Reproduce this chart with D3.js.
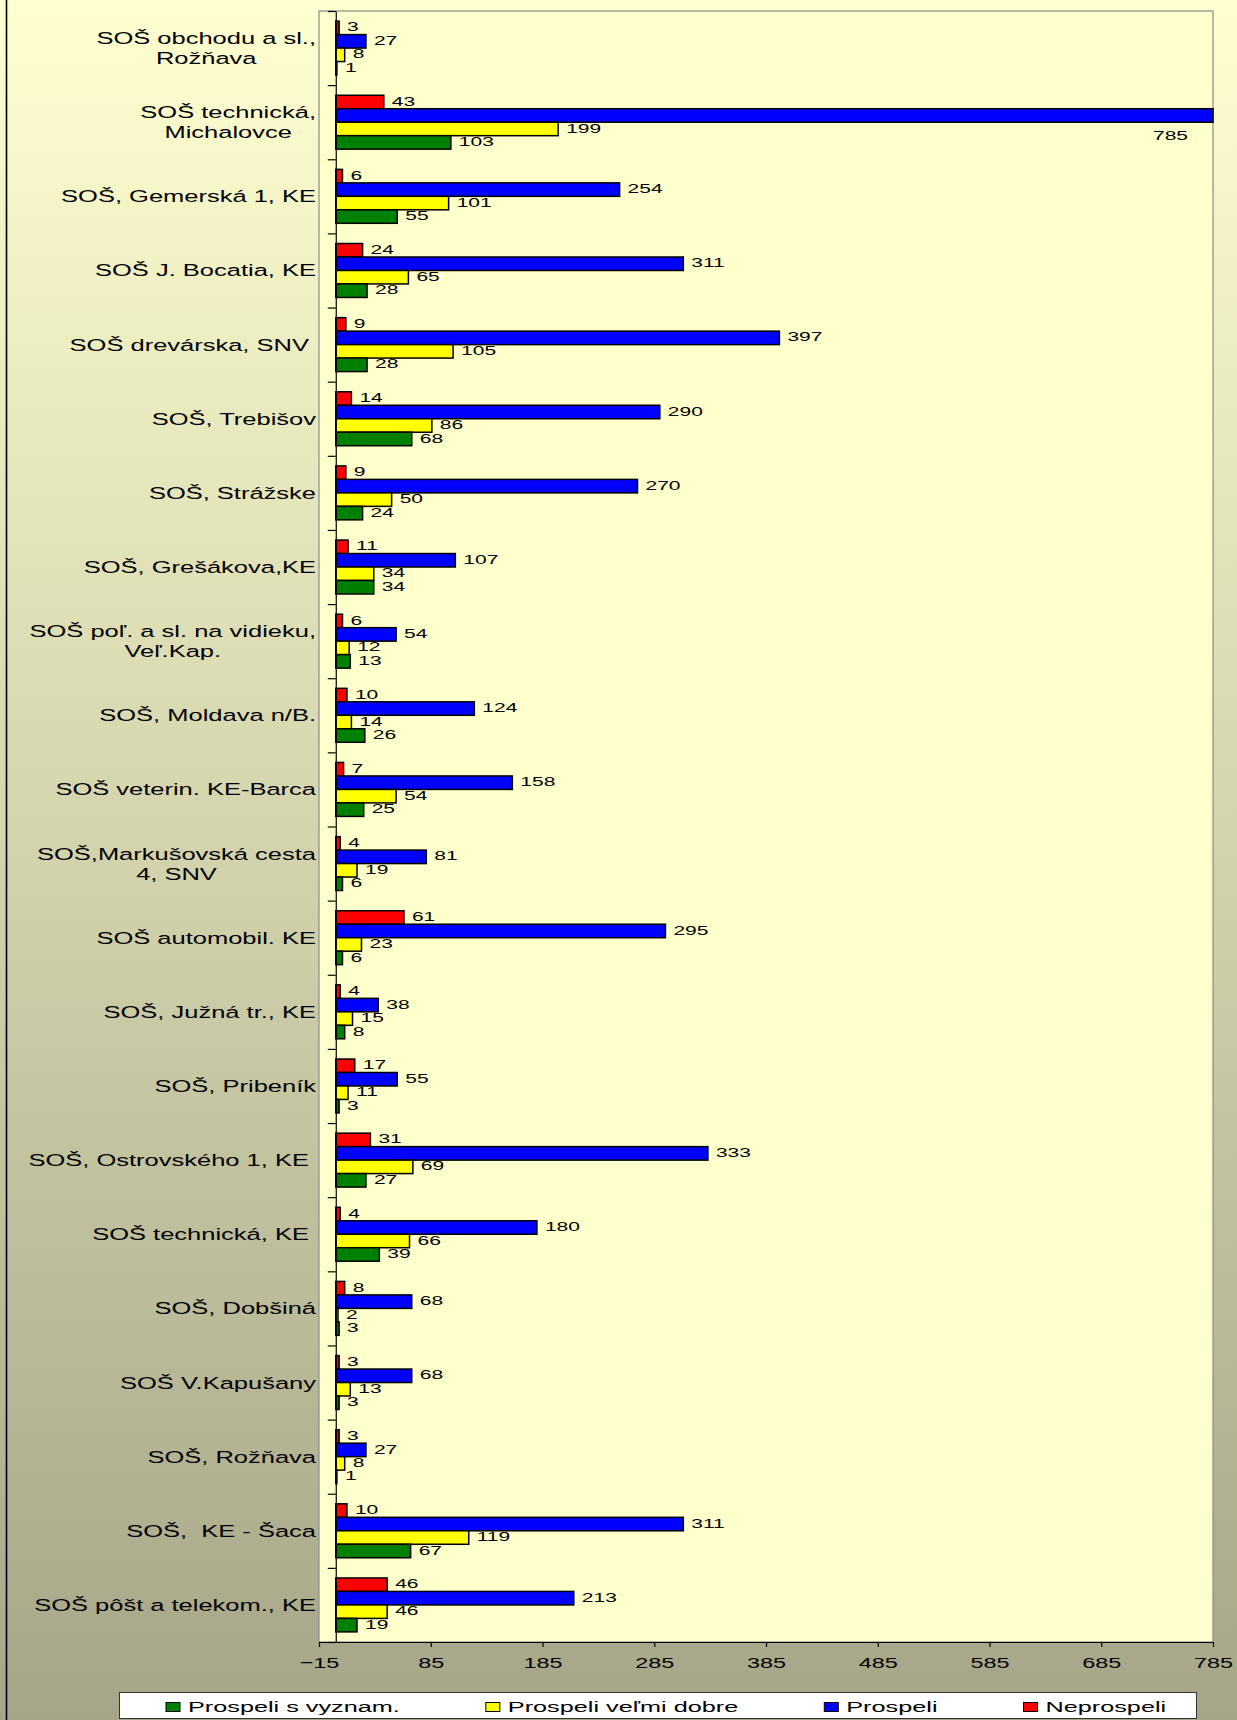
<!DOCTYPE html>
<html>
<head>
<meta charset="utf-8">
<script src="https://cdn.jsdelivr.net/npm/d3@7"></script>
<style>
  body { margin: 0; padding: 0; background: #fff; }
  svg { display: block; }
  text { font-family: "Liberation Sans", Arial, sans-serif; fill: #000; }
</style>
</head>
<body>
<svg id="chart" width="1237" height="1720"></svg>
<script>
// ---- data (top to bottom as drawn) ----
const categories = [
  "SOŠ obchodu a sl.,\nRožňava",
  "SOŠ technická,\nMichalovce",
  "SOŠ, Gemerská 1, KE",
  "SOŠ J. Bocatia, KE",
  "SOŠ drevárska, SNV ",
  "SOŠ, Trebišov",
  "SOŠ, Strážske",
  "SOŠ, Grešákova,KE",
  "SOŠ poľ. a sl. na vidieku,\nVeľ.Kap.",
  "SOŠ, Moldava n/B.",
  "SOŠ veterin. KE-Barca",
  "SOŠ,Markušovská cesta\n4, SNV",
  "SOŠ automobil. KE",
  "SOŠ, Južná tr., KE",
  "SOŠ, Pribeník",
  "SOŠ, Ostrovského 1, KE ",
  "SOŠ technická, KE ",
  "SOŠ, Dobšiná",
  "SOŠ V.Kapušany",
  "SOŠ, Rožňava",
  "SOŠ,  KE - Šaca",
  "SOŠ pôšt a telekom., KE"
];
const prospeliSVyznam  = [1, 103, 55, 28, 28, 68, 24, 34, 13, 26, 25, 6, 6, 8, 3, 27, 39, 3, 3, 1, 67, 19];
const prospeliVelmiDobre = [8, 199, 101, 65, 105, 86, 50, 34, 12, 14, 54, 19, 23, 15, 11, 69, 66, 2, 13, 8, 119, 46];
const prospeli         = [27, 785, 254, 311, 397, 290, 270, 107, 54, 124, 158, 81, 295, 38, 55, 333, 180, 68, 68, 27, 311, 213];
const neprospeli       = [3, 43, 6, 24, 9, 14, 9, 11, 6, 10, 7, 4, 61, 4, 17, 31, 4, 8, 3, 3, 10, 46];
const seriesNames  = ["Prospeli s vyznam.", "Prospeli veľmi dobre", "Prospeli", "Neprospeli"];
const seriesColors = ["#008000", "#FFFF00", "#0000FF", "#FF0000"];
const xTicks = [-15, 85, 185, 285, 385, 485, 585, 685, 785];

// ---- layout ----
const W = 1237, H = 1720;
const plot = { left: 319, right: 1213, top: 11, bottom: 1642 };
const SX_CAT = 1.5, SX_TICK = 1.52, SX_VAL = 1.68, SX_LEG = 1.64;

const svg = d3.select("#chart");
const defs = svg.append("defs");
const grad = defs.append("linearGradient").attr("id", "bg").attr("x1", 0).attr("y1", 0).attr("x2", 0).attr("y2", 1);
grad.append("stop").attr("offset", "0%").attr("stop-color", "#FFFFD0");
grad.append("stop").attr("offset", "100%").attr("stop-color", "#A6A588");
svg.append("rect").attr("width", W).attr("height", H).attr("fill", "url(#bg)");
svg.append("line").attr("x1", 6.5).attr("x2", 6.5).attr("y1", 0).attr("y2", H)
  .attr("stroke", "#000").attr("stroke-width", 1.6);

const x = d3.scaleLinear().domain([-15, 785]).range([plot.left, plot.right]);
const y = d3.scaleBand().domain(d3.range(categories.length)).range([plot.top, plot.bottom]).paddingInner(0).paddingOuter(0);
const yIdx = d3.scaleLinear().domain([0, categories.length]).range([plot.top, plot.bottom]);
// bar order within a band, top to bottom: Neprospeli, Prospeli, veľmi dobre, s vyznam.
const drawOrder = [3, 2, 1, 0];
const ySub = d3.scaleBand().domain(drawOrder).range([0, y.bandwidth()]).paddingInner(0).paddingOuter(0.75);

// plot area
svg.append("rect")
  .attr("x", plot.left).attr("y", plot.top)
  .attr("width", plot.right - plot.left).attr("height", plot.bottom - plot.top)
  .attr("fill", "#FFFFCC").attr("stroke", "#8a8a8a").attr("stroke-width", 1.2);

const seriesValues = [prospeliSVyznam, prospeliVelmiDobre, prospeli, neprospeli];
const barData = [];
categories.forEach((c, i) => {
  drawOrder.forEach(s => barData.push({ i, s, v: seriesValues[s][i] }));
});

// bars
svg.append("g").selectAll("rect").data(barData).join("rect")
  .attr("x", d => x(0))
  .attr("y", d => y(d.i) + ySub(d.s))
  .attr("width", d => x(d.v) - x(0))
  .attr("height", ySub.bandwidth())
  .attr("fill", d => seriesColors[d.s])
  .attr("stroke", "#000").attr("stroke-width", 1.5);

// value labels
const valG = svg.append("g");
barData.forEach(d => {
  const by = y(d.i) + ySub(d.s);
  const t = valG.append("text").attr("font-size", 12.5).text(d.v);
  const w = t.node().getComputedTextLength() * SX_VAL;
  let tx = x(d.v) + 8, ty = by + ySub.bandwidth() / 2 + 3.6, anchor = "start";
  if (tx + w > plot.right) {
    tx = plot.right - 25; ty = by + ySub.bandwidth() + 18; anchor = "end";
  }
  t.attr("text-anchor", anchor).attr("transform", `translate(${tx},${ty}) scale(${SX_VAL},1)`);
});

// category axis
const catAxis = svg.append("g").attr("transform", `translate(${x(0)},0)`)
  .call(d3.axisLeft(yIdx).tickValues(d3.range(categories.length + 1)).tickFormat("").tickSize(8).tickSizeOuter(0));
catAxis.selectAll("path,line").attr("stroke", "#000").attr("stroke-width", 1.2);

// category labels
const catG = svg.append("g");
categories.forEach((c, i) => {
  const lines = c.split("\n");
  const cy = y(i) + y.bandwidth() / 2;
  const g = catG.append("g").attr("transform", `translate(316,${cy}) scale(${SX_CAT},1)`);
  const texts = lines.map((ln, k) => g.append("text")
    .attr("font-size", 17).style("white-space", "pre")
    .attr("y", (k - (lines.length - 1) / 2) * 20 + 6)
    .attr("text-anchor", "middle").text(ln));
  const maxW = d3.max(texts, t => t.node().getComputedTextLength());
  texts.forEach(t => t.attr("x", -maxW / 2));
});

// value axis
const xAxis = svg.append("g").attr("transform", `translate(0,${plot.bottom})`)
  .call(d3.axisBottom(x).tickValues(xTicks).tickSize(5).tickSizeOuter(0).tickFormat(d3.format("d")));
xAxis.selectAll("path,line").attr("stroke", "#000").attr("stroke-width", 1.2);
xAxis.selectAll("text")
  .attr("font-size", 15.4).attr("fill", "#000")
  .attr("y", 15.2).attr("dy", "0.71em")
  .attr("transform", `scale(${SX_TICK},1)`)
  .style("font-family", '"Liberation Sans", Arial, sans-serif');

// legend
const leg = svg.append("g");
leg.append("rect").attr("x", 119.5).attr("y", 1692.5).attr("width", 1077).attr("height", 26)
  .attr("fill", "#fff").attr("stroke", "#333").attr("stroke-width", 1);
let lx = 166;
seriesNames.forEach((name, s) => {
  leg.append("rect").attr("x", lx).attr("y", 1702.5).attr("width", 14).attr("height", 9)
    .attr("fill", seriesColors[s]).attr("stroke", "#000").attr("stroke-width", 1);
  const t = leg.append("text").attr("font-size", 15.4).text(name)
    .attr("transform", `translate(${lx + 22},1712) scale(${SX_LEG},1)`);
  lx += 22 + t.node().getComputedTextLength() * SX_LEG + 86;
});
</script>
</body>
</html>
